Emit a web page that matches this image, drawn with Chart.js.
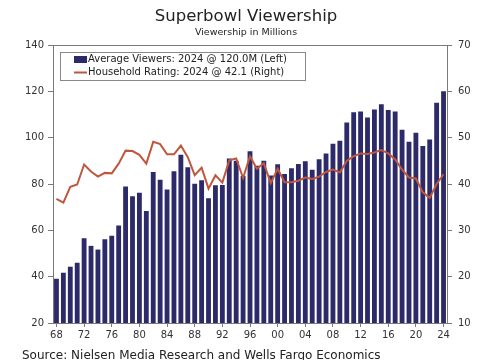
<!DOCTYPE html>
<html lang="en">
<head>
    <meta charset="UTF-8">
    <title>Superbowl Viewership</title>
    <script src="https://cdn.jsdelivr.net/npm/chart.js"></script>
    <style>
        body { margin: 0; background: white; overflow: hidden; }
        canvas { display: block; }
    </style>
</head>
<body>
    <canvas id="chart" width="485" height="360"></canvas>
    <script>
        // Super Bowl games by year, 1968-2024
        const years = [];
        for (let y = 1968; y <= 2024; y++) years.push(String(y));

        // average viewers, millions (left axis)
        const viewers = [39.1, 41.7, 44.3, 46.0, 56.6, 53.3, 51.7, 56.1, 57.7, 62.1,
            78.9, 74.7, 76.2, 68.3, 85.2, 81.8, 77.6, 85.5, 92.6, 87.2,
            80.1, 81.6, 73.9, 79.5, 79.6, 91.0, 90.0, 83.4, 94.1, 87.9,
            90.0, 83.7, 88.5, 84.3, 86.8, 88.6, 89.8, 86.1, 90.7, 93.2,
            97.4, 98.7, 106.5, 111.0, 111.3, 108.7, 112.2, 114.4, 111.9, 111.3,
            103.4, 98.2, 102.1, 96.4, 99.2, 115.1, 120.0];

        // household rating (right axis)
        const rating = [36.8, 36.0, 39.4, 39.9, 44.2, 42.7, 41.6, 42.4, 42.3, 44.4,
            47.2, 47.1, 46.3, 44.4, 49.1, 48.6, 46.4, 46.4, 48.3, 45.8,
            41.9, 43.5, 39.0, 41.9, 40.3, 45.1, 45.5, 41.3, 46.0, 43.3,
            44.5, 40.2, 43.3, 40.4, 40.4, 40.7, 41.4, 41.1, 41.6, 42.6,
            43.1, 42.5, 45.0, 46.0, 46.6, 46.5, 46.8, 47.3, 46.6, 45.3,
            43.1, 41.4, 41.2, 38.2, 37.0, 40.0, 42.1];

        const barLabel = 'Average Viewers: 2024 @ 120.0M (Left)';
        const lineLabel = 'Household Rating: 2024 @ 42.1 (Right)';
        const navy = '#2d2a6a';
        const rust = '#bf573e';
        const axisGray = '#7a7a7a';
        const font = 'DejaVu Sans';

        const textPlugin = {
            id: 'texts',
            afterDraw(chart) {
                const c = chart.ctx;
                const a = chart.chartArea;
                c.save();
                // top border of plot
                c.strokeStyle = axisGray;
                c.lineWidth = 1;
                c.beginPath();
                c.moveTo(a.left, a.top + 0.5);
                c.lineTo(a.right, a.top + 0.5);
                c.stroke();

                c.fillStyle = '#222';
                c.textAlign = 'center';
                c.textBaseline = 'middle';
                c.font = '16.5px "' + font + '"';
                c.fillText('Superbowl Viewership', 246, 17);
                c.font = '9.5px "' + font + '"';
                c.fillText('Viewership in Millions', 246, 33);

                c.textAlign = 'left';
                c.font = '12px "' + font + '"';
                c.fillText('Source: Nielsen Media Research and Wells Fargo Economics', 22, 356);

                // legend box
                c.fillStyle = 'white';
                c.fillRect(60, 52, 245, 28);
                c.strokeStyle = '#888';
                c.strokeRect(60.5, 52.5, 245, 28);
                c.fillStyle = navy;
                c.fillRect(74, 56, 13, 7);
                c.strokeStyle = rust;
                c.lineWidth = 2;
                c.beginPath();
                c.moveTo(74, 72.5);
                c.lineTo(87, 72.5);
                c.stroke();
                c.fillStyle = '#222';
                c.font = '10px "' + font + '"';
                c.fillText(chart.data.datasets[0].label, 88, 59.5);
                c.fillText(chart.data.datasets[1].label, 88, 72.5);
                c.restore();
            }
        };

        new Chart(document.getElementById('chart'), {
            data: {
                labels: years,
                datasets: [
                    {
                        type: 'bar', label: barLabel, data: viewers, yAxisID: 'y',
                        backgroundColor: navy, barPercentage: 0.7, categoryPercentage: 1, order: 1
                    },
                    {
                        type: 'line', label: lineLabel, data: rating, yAxisID: 'y1',
                        borderColor: rust, borderWidth: 2, pointRadius: 0, tension: 0, order: 0
                    }
                ]
            },
            plugins: [textPlugin],
            options: {
                responsive: false,
                animation: false,
                devicePixelRatio: 1,
                layout: { padding: { top: 45, left: 0, right: 0, bottom: 0 } },
                plugins: { legend: { display: false }, tooltip: { enabled: false } },
                scales: {
                    x: {
                        afterFit(s) { s.height = 37; },
                        grid: {
                            offset: false, drawOnChartArea: false, tickLength: 4,
                            color: (ctx) => (ctx.index % 4 === 0 ? axisGray : 'rgba(0,0,0,0)')
                        },
                        border: { display: true, color: axisGray },
                        ticks: {
                            autoSkip: false, maxRotation: 0, padding: 2, color: '#333',
                            font: { family: font, size: 10 },
                            callback: function (v, i) {
                                const y = years[i];
                                return (Number(y) % 4 === 0) ? y.slice(2) : '';
                            }
                        }
                    },
                    y: {
                        position: 'left', min: 20, max: 140,
                        afterFit(s) { s.width = 53; },
                        grid: { drawOnChartArea: false, tickLength: 5, color: axisGray },
                        border: { display: true, color: axisGray },
                        ticks: { stepSize: 20, padding: 4, color: '#333', font: { family: font, size: 10 } }
                    },
                    y1: {
                        position: 'right', min: 10, max: 70,
                        afterFit(s) { s.width = 38; },
                        grid: { drawOnChartArea: false, tickLength: 5, color: axisGray },
                        border: { display: true, color: axisGray },
                        ticks: { stepSize: 10, padding: 6, color: '#333', font: { family: font, size: 10 } }
                    }
                }
            }
        });
    </script>
</body>
</html>
